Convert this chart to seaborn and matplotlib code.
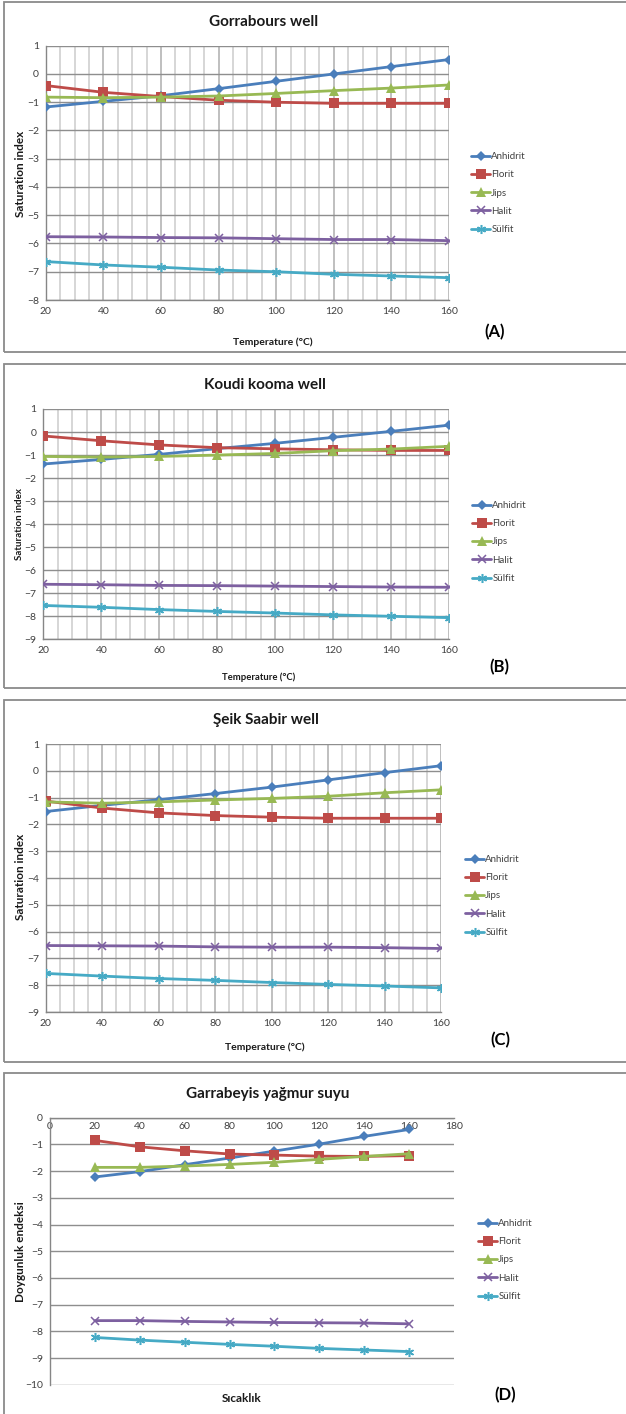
import matplotlib
matplotlib.use("Agg")
import matplotlib.pyplot as plt
from matplotlib.ticker import MultipleLocator
from matplotlib.patches import Rectangle
import seaborn as sns
import pandas as pd

sns.set_style("white")
plt.rcParams['font.family'] = ['Lato', 'DejaVu Sans']

# ---------------- data ----------------
minerals = ["Anhidrit", "Florit", "Jips", "Halit", "Sülfit"]
temps = [20, 40, 60, 80, 100, 120, 140, 160]

# Panel A - Gorrabours well
a_anhidrit = [-1.17, -0.97, -0.77, -0.52, -0.26, 0.0, 0.26, 0.51]
a_florit = [-0.41, -0.65, -0.80, -0.93, -1.00, -1.04, -1.04, -1.04]
a_jips = [-0.82, -0.84, -0.82, -0.78, -0.69, -0.59, -0.50, -0.39]
a_halit = [-5.76, -5.77, -5.79, -5.80, -5.83, -5.86, -5.86, -5.90]
a_sulfit = [-6.64, -6.76, -6.84, -6.94, -7.00, -7.09, -7.15, -7.21]

# Panel B - Koudi kooma well
b_anhidrit = [-1.39, -1.19, -0.97, -0.72, -0.49, -0.23, 0.03, 0.30]
b_florit = [-0.17, -0.38, -0.56, -0.68, -0.73, -0.77, -0.80, -0.80]
b_jips = [-1.06, -1.09, -1.06, -1.00, -0.93, -0.81, -0.74, -0.62]
b_halit = [-6.61, -6.63, -6.66, -6.67, -6.69, -6.71, -6.73, -6.74]
b_sulfit = [-7.53, -7.61, -7.71, -7.79, -7.86, -7.94, -8.00, -8.06]

# Panel C - Şeik Saabir well
c_anhidrit = [-1.52, -1.29, -1.08, -0.85, -0.61, -0.34, -0.07, 0.19]
c_florit = [-1.13, -1.39, -1.57, -1.67, -1.73, -1.77, -1.77, -1.77]
c_jips = [-1.16, -1.21, -1.16, -1.09, -1.03, -0.95, -0.82, -0.71]
c_halit = [-6.52, -6.53, -6.54, -6.57, -6.58, -6.58, -6.60, -6.63]
c_sulfit = [-7.56, -7.66, -7.75, -7.82, -7.90, -7.97, -8.03, -8.10]

# Panel D - Garrabeyis yağmur suyu
d_anhidrit = [-2.22, -2.02, -1.76, -1.51, -1.25, -0.99, -0.70, -0.44]
d_florit = [-0.85, -1.09, -1.24, -1.36, -1.40, -1.44, -1.45, -1.42]
d_jips = [-1.86, -1.86, -1.81, -1.75, -1.67, -1.56, -1.45, -1.35]
d_halit = [-7.60, -7.60, -7.63, -7.65, -7.67, -7.68, -7.69, -7.72]
d_sulfit = [-8.23, -8.33, -8.41, -8.49, -8.56, -8.64, -8.70, -8.76]

titles = ["Gorrabours well", "Koudi kooma well", "Şeik Saabir well", "Garrabeyis yağmur suyu"]
xlabels = ["Temperature (°C)", "Temperature (°C)", "Temperature (°C)", "Sıcaklık"]
ylabels = ["Saturation index", "Saturation index", "Saturation index", "Doygunluk endeksi"]
panel_tags = ["(A)", "(B)", "(C)", "(D)"]
ytick_a = [1, 0, -1, -2, -3, -4, -5, -6, -7, -8]
ytick_bc = [1, 0, -1, -2, -3, -4, -5, -6, -7, -8, -9]
ytick_d = [0, -1, -2, -3, -4, -5, -6, -7, -8, -9, -10]
xtick_abc = [20, 40, 60, 80, 100, 120, 140, 160]
xtick_d = [0, 20, 40, 60, 80, 100, 120, 140, 160, 180]

panels = [
    [a_anhidrit, a_florit, a_jips, a_halit, a_sulfit],
    [b_anhidrit, b_florit, b_jips, b_halit, b_sulfit],
    [c_anhidrit, c_florit, c_jips, c_halit, c_sulfit],
    [d_anhidrit, d_florit, d_jips, d_halit, d_sulfit],
]

colors = {"Anhidrit": "#4A7EBB", "Florit": "#BE4B48", "Jips": "#98B954",
          "Halit": "#7D60A0", "Sülfit": "#46AAC5"}
markers = {"Anhidrit": "D", "Florit": "s", "Jips": "^", "Halit": "x", "Sülfit": (6, 2, 0)}
msizes = {"Anhidrit": 5, "Florit": 7, "Jips": 6.5, "Halit": 6, "Sülfit": 6.5}

W, H = 626, 1414
fig = plt.figure(figsize=(W / 100, H / 100), dpi=100)

def fx(px):
    return px / W

def fy(py):
    return 1 - py / H

# layout in pixels: (left, top, right, bottom)
axes_px = [(45.7, 45.7, 449, 300), (43.3, 409, 449.3, 639.3),
           (45.7, 744, 441, 1012), (50, 1117.7, 454, 1384.7)]
boxes_px = [(4, 1.5, 640, 352), (4, 364, 640, 688), (4, 700, 640, 1062), (4, 1073, 640, 1430)]
title_pos = [(264, 22), (265, 385), (266, 720), (268, 1094)]
xlabel_pos = [(273, 342), (259, 677), (265, 1047), (242, 1398)]
ylabel_pos = [(21, 174), (19, 524), (21, 877), (21, 1252)]
ylabel_fs = [8.5, 7.0, 8.5, 8.5]
xlabel_fs = [7.5, 6.8, 7.5, 8.5]
tag_pos = [(495, 332), (499, 667), (500, 1040), (505, 1395)]
legend_pos = [(466, 193), (467, 542), (460, 896), (473, 1260)]

# panel boxes
for (l, t, r, b) in boxes_px:
    fig.patches.append(Rectangle((fx(l), fy(b)), fx(r - l), (b - t) / H,
                                 transform=fig.transFigure, fill=False,
                                 edgecolor="#8a8a8a", lw=1.3, zorder=0))

for i, series in enumerate(panels):
    l, t, r, b = axes_px[i]
    ax = fig.add_axes([fx(l), fy(b), fx(r - l), (b - t) / H])
    for name, vals in zip(minerals, series):
        df = pd.DataFrame({"T": temps, "SI": vals})
        m = markers[name]
        kw = dict(markeredgecolor=colors[name], markerfacecolor=colors[name])
        if name in ("Halit", "Sülfit"):
            kw["markeredgewidth"] = 1.1
        else:
            kw["markeredgewidth"] = 0
        sns.lineplot(data=df, x="T", y="SI", ax=ax, color=colors[name], lw=2.0,
                     marker=m, markersize=msizes[name], label=name, zorder=3, **kw)

    if i < 3:
        ax.set_xlim(20, 160)
        ax.set_xticks(xtick_abc)
        ax.xaxis.set_minor_locator(MultipleLocator(5))
        yt = ytick_a if i == 0 else ytick_bc
        ax.set_ylim(min(yt), max(yt))
        ax.set_yticks(yt)
        ax.grid(which="minor", axis="x", color="#d6d6d6", lw=1.4, zorder=0)
        ax.grid(which="major", axis="x", color="#b4b4b4", lw=1.2, zorder=0)
        ax.grid(which="major", axis="y", color="#8e8e8e", lw=1.0, zorder=0)
        ax.tick_params(which="minor", length=0)
        ax.tick_params(axis="both", which="major", length=2.5, width=0.8,
                       color="#868686", labelsize=7.5, labelcolor="#404040", pad=2.5)
        for s in ["top", "right"]:
            ax.spines[s].set_visible(False)
        for s in ["left", "bottom"]:
            ax.spines[s].set_color("#868686")
            ax.spines[s].set_linewidth(1.0)
    else:
        ax.set_xlim(0, 180)
        ax.set_xticks(xtick_d)
        ax.set_ylim(-10, 0)
        ax.set_yticks(ytick_d)
        ax.grid(which="major", axis="y", color="#8e8e8e", lw=1.0, zorder=0)
        ax.grid(False, axis="x")
        ax.spines["bottom"].set_position(("data", 0))
        for s in ["top", "right"]:
            ax.spines[s].set_visible(False)
        for s in ["left", "bottom"]:
            ax.spines[s].set_color("#868686")
            ax.spines[s].set_linewidth(1.0)
        ax.tick_params(axis="x", direction="in", length=4, width=0.8, color="#868686",
                       labelsize=7.5, labelcolor="#404040", pad=3)
        ax.tick_params(axis="y", direction="out", length=2.5, width=0.8, color="#868686",
                       labelsize=7.5, labelcolor="#404040", pad=2.5)
    ax.set_xlabel("")
    ax.set_ylabel("")
    ax.set_facecolor("none")

    ax.legend(loc="center left", bbox_to_anchor=(fx(legend_pos[i][0]), fy(legend_pos[i][1])),
              bbox_transform=fig.transFigure, frameon=False, fontsize=7,
              handlelength=2.0, handletextpad=0.1, labelspacing=0.95, borderpad=0,
              labelcolor="#404040")

    fig.text(fx(title_pos[i][0]), fy(title_pos[i][1]), titles[i], ha="center", va="center",
             fontsize=11, fontweight="bold", color="#1a1a1a")
    fig.text(fx(xlabel_pos[i][0]), fy(xlabel_pos[i][1]), xlabels[i], ha="center", va="center",
             fontsize=xlabel_fs[i], fontweight="bold", color="#1a1a1a")
    fig.text(fx(ylabel_pos[i][0]), fy(ylabel_pos[i][1]), ylabels[i], ha="center", va="center",
             rotation=90, fontsize=ylabel_fs[i], fontweight="bold", color="#1a1a1a")
    fig.text(fx(tag_pos[i][0]), fy(tag_pos[i][1]), panel_tags[i], ha="center", va="center",
             fontsize=12, fontweight="bold", color="#000000")

fig.savefig("out.png", dpi=100)
